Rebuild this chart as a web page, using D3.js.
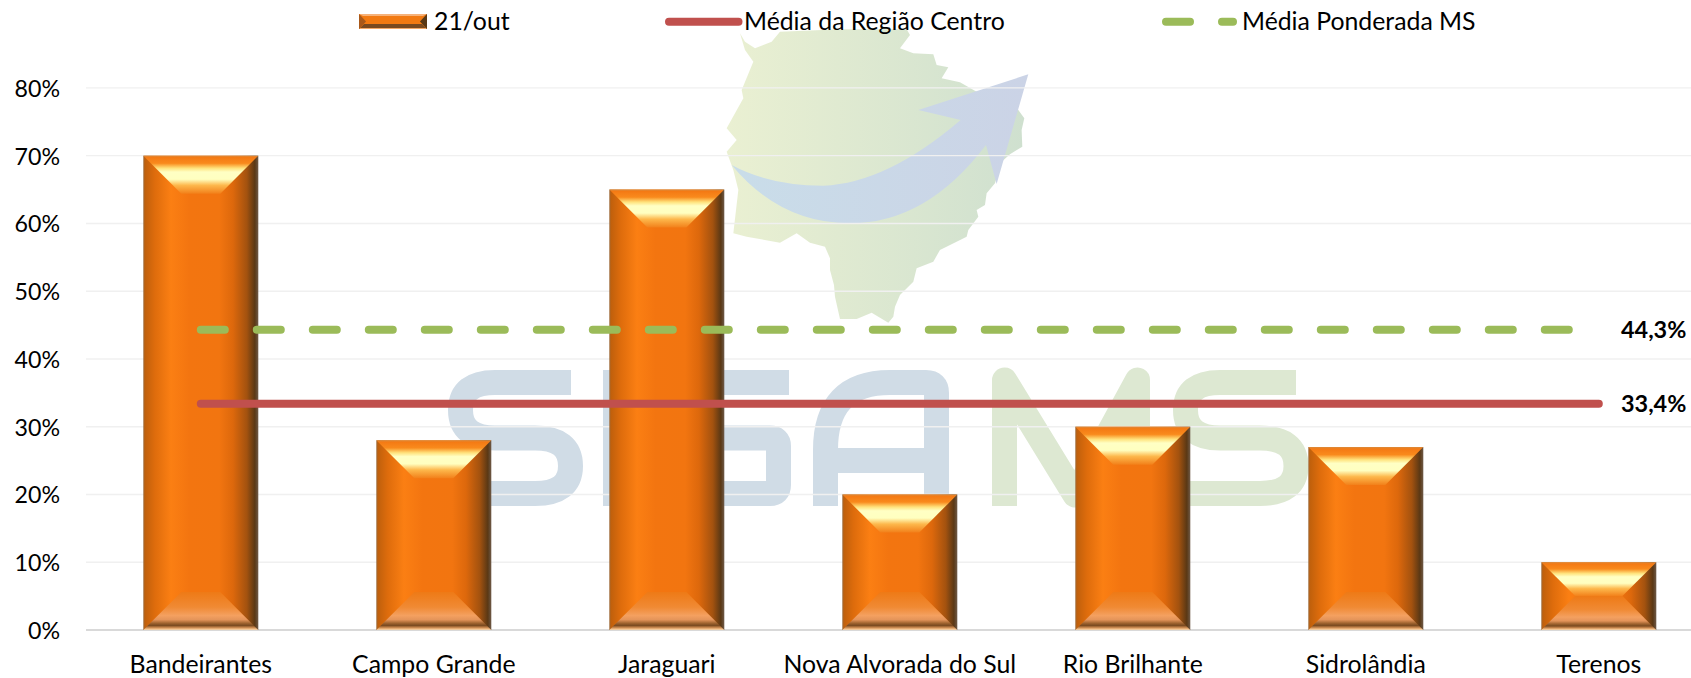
<!DOCTYPE html>
<html lang="pt">
<head>
<meta charset="utf-8">
<script src="https://cdn.jsdelivr.net/npm/d3@7/dist/d3.min.js"></script>
<style>
html,body{margin:0;padding:0;background:#fff;overflow:hidden}
svg{display:block}
text{font-family:Lato,"Noto Sans",sans-serif;fill:#000}
</style>
</head>
<body>
<svg id="chart" width="1691" height="678"></svg>
<script>
const categories = ["Bandeirantes","Campo Grande","Jaraguari","Nova Alvorada do Sul","Rio Brilhante","Sidrolândia","Terenos"];
const values21Out = [70,28,65,20,30,27,10];
const mediaRegiaoCentro = [33.4,33.4,33.4,33.4,33.4,33.4,33.4];
const mediaPonderadaMS = [44.3,44.3,44.3,44.3,44.3,44.3,44.3];
const yTicks = [0,10,20,30,40,50,60,70,80];
const seriesNames = ["21/out","Média da Região Centro","Média Ponderada MS"];

const W = 1691, H = 678, fontSize = 24.8, tickFontSize = 23.2;
const svg = d3.select("#chart");
const x = d3.scaleBand().domain(categories).range([84.3,1715.3]).paddingInner(0.5064).paddingOuter(0.2532);
const y = d3.scaleLinear().domain([0,80]).range([630,87.9]);
const cx = d => x(d) + x.bandwidth()/2;

/* gradients */
const defs = svg.append("defs");
function grad(id, stops, vertical){
  const g = defs.append("linearGradient").attr("id",id).attr("x1",0).attr("y1",0)
    .attr("x2",vertical?0:1).attr("y2",vertical?1:0);
  stops.forEach(s=>g.append("stop").attr("offset",s[0]).attr("stop-color",s[1]));
}
grad("barH",[[0,"#9a6a3c"],[0.015,"#c0600c"],[0.1,"#de6c0c"],[0.24,"#fb7f13"],[0.4,"#f37510"],[0.66,"#f27510"],[0.78,"#dd680c"],[0.9,"#a3520f"],[0.97,"#5a3815"],[1,"#6e5a48"]]);
grad("bevelTop",[[0,"#d98a3c"],[0.05,"#f47a14"],[0.2,"#f98a1c"],[0.33,"#ffe27c"],[0.43,"#ffffc4"],[0.62,"#ffffc0"],[0.78,"#fdb84c"],[1,"#f2801a"]],true);
grad("bevelBottom",[[0,"#ee7a16"],[0.4,"#f08a34"],[0.62,"#f4a060"],[0.73,"#e4945a"],[0.82,"#a0642f"],[0.88,"#7a4a20"],[0.93,"#c08048"],[0.98,"#f8c48c"],[1,"#e6d5bf"]],true);
grad("mapFill",[[0,"#eaf0d2"],[1,"#cfe0cf"]]);
grad("arrowFill",[[0,"#c9dde9"],[1,"#cbd3e6"]]);

/* watermark */
const wm = svg.append("g").attr("class","watermark");
const mapG = wm.append("g").attr("transform","translate(700,20) scale(0.3333)");
mapG.append("path").attr("fill","url(#mapFill)")
  .attr("d","M120,40L135,65L165,85L215,65L240,35L420,28L620,28L630,45L600,85L640,100L700,103L710,135L745,142L725,175L780,187L830,215L870,205L955,270L973,295L965,330L967,380L930,403L905,425L885,490L860,520L855,555L830,570L835,590L805,630L800,650L720,690L700,725L650,745L640,785L600,825L585,860L580,890L565,908L515,878L470,897L420,897L405,830L402,795L390,750L390,715L375,680L330,668L290,640L240,668L140,650L100,640L115,510L100,450L80,395L110,360L80,325L130,235L125,210L160,125L135,90Z");
mapG.append("path").attr("fill","url(#arrowFill)")
  .attr("d","M95,435Q210,497 370,497Q560,490 782,300L655,270L985,163L890,492L858,375Q680,610 450,610Q240,610 95,435Z");
const letterStyle = (sel,color)=>sel.attr("fill","none").attr("stroke",color).attr("stroke-width",25);
const blue="#d0dce6", green="#dde8d2";
[
 ["M571,382.5H495Q460.5,382.5 460.5,410Q460.5,438 495,438H535Q570.5,438 570.5,466Q570.5,493.5 535,493.5H448",blue],
 ["M615.5,370V506",blue],
 ["M789,382.5H670Q640,382.5 640,410V470Q640,493.5 670,493.5H770Q778.5,493.5 778.5,485V446Q778.5,438 770,438H680",blue],
 ["M825.5,506V450Q825.5,382.5 890,382.5H926Q936.5,382.5 936.5,393V506M825.5,460.5H936.5",blue],
 ["M1296,382.5H1220Q1185.5,382.5 1185.5,410Q1185.5,438 1220,438H1260Q1296,438 1296,466Q1296,493.5 1260,493.5H1173",green]
].forEach(d=>letterStyle(wm.append("path").attr("d",d[0]),d[1]));
letterStyle(wm.append("path").attr("d","M1004.5,506V380L1075,495L1137.5,380V506"),green).attr("stroke-linejoin","round");

/* grid */
svg.append("g").selectAll("line").data(yTicks).join("line")
  .attr("x1",86).attr("x2",W).attr("y1",d=>y(d)).attr("y2",d=>y(d))
  .attr("stroke",d=>d===0?"#d9d9d9":"#f0f0f0").attr("stroke-width",d=>d===0?2:1.4);

/* axes */
const yAxis = svg.append("g").attr("transform","translate(60,0)")
  .call(d3.axisLeft(y).tickValues(yTicks).tickFormat(d=>d+"%").tickSize(0).tickPadding(0));
yAxis.select(".domain").remove();
yAxis.selectAll("text").attr("font-size",tickFontSize).attr("dy","0.36em").attr("fill","#000");

const xAxis = svg.append("g").attr("transform","translate(0,630)")
  .call(d3.axisBottom(x).tickSize(0).tickPadding(0));
xAxis.select(".domain").remove();
xAxis.selectAll("text").attr("font-size",fontSize).attr("y",43).attr("dy",0).attr("fill","#000");

/* bars */
const bars = svg.append("g").selectAll("g").data(categories).join("g");
bars.each(function(c,i){
  const g = d3.select(this), x0 = x(c), w = x.bandwidth(), t = y(values21Out[i]), b = y(0), h = b-t;
  const depth = Math.min(38,h/2), x1 = x0+w;
  g.append("rect").attr("x",x0).attr("y",t).attr("width",w).attr("height",h).attr("fill","url(#barH)");
  g.append("path").attr("fill","url(#bevelTop)")
    .attr("d",`M${x0},${t}L${x1},${t}L${x1-depth},${t+depth}L${x0+depth},${t+depth}Z`);
  g.append("path").attr("fill","url(#bevelBottom)")
    .attr("d",`M${x0+depth},${b-depth}L${x1-depth},${b-depth}L${x1},${b}L${x0},${b}Z`);
});

/* lines */
const line = d3.line().x((d,i)=>cx(categories[i])).y(d=>y(d));
svg.append("path").datum(mediaPonderadaMS).attr("d",line).attr("fill","none")
  .attr("stroke","#9bbb59").attr("stroke-width",8).attr("stroke-linecap","round").attr("stroke-dasharray","24 32");
svg.append("path").datum(mediaRegiaoCentro).attr("d",line).attr("fill","none")
  .attr("stroke","#c0504d").attr("stroke-width",8).attr("stroke-linecap","round");

/* data labels */
const fmt = v => v.toFixed(1).replace(".",",")+"%";
[mediaPonderadaMS,mediaRegiaoCentro].forEach(s=>{
  const v = s[s.length-1];
  svg.append("text").attr("x",1621).attr("y",y(v)+8.5).attr("font-size",23.4).attr("font-weight",700).text(fmt(v));
});

/* legend */
const lg = svg.append("g");
lg.append("rect").attr("x",359).attr("y",14).attr("width",68).attr("height",15).attr("fill","#f27a12");
lg.append("path").attr("fill","#f6b27a").attr("d","M359,14H427L423,16H363Z");
lg.append("path").attr("fill","#7a4a20").attr("d","M364,24H422L427,29H359Z");
lg.append("path").attr("fill","#f3a765").attr("d","M360,28H426L427,29H359Z");
lg.append("path").attr("fill","#a8581a").attr("d","M359,14L366,21.5L359,29Z");
lg.append("path").attr("fill","#5a3815").attr("d","M427,14L420,21.5L427,29Z");
lg.append("text").attr("x",434).attr("y",30).attr("font-size",fontSize).text(seriesNames[0]);
lg.append("line").attr("x1",669).attr("x2",738.5).attr("y1",21.7).attr("y2",21.7)
  .attr("stroke","#c0504d").attr("stroke-width",8).attr("stroke-linecap","round");
lg.append("text").attr("x",744).attr("y",30).attr("font-size",fontSize).text(seriesNames[1]);
lg.append("line").attr("x1",1166).attr("x2",1233).attr("y1",21.7).attr("y2",21.7)
  .attr("stroke","#9bbb59").attr("stroke-width",8).attr("stroke-linecap","round").attr("stroke-dasharray","24 32");
lg.append("text").attr("x",1242).attr("y",30).attr("font-size",fontSize).text(seriesNames[2]);
</script>
</body>
</html>
